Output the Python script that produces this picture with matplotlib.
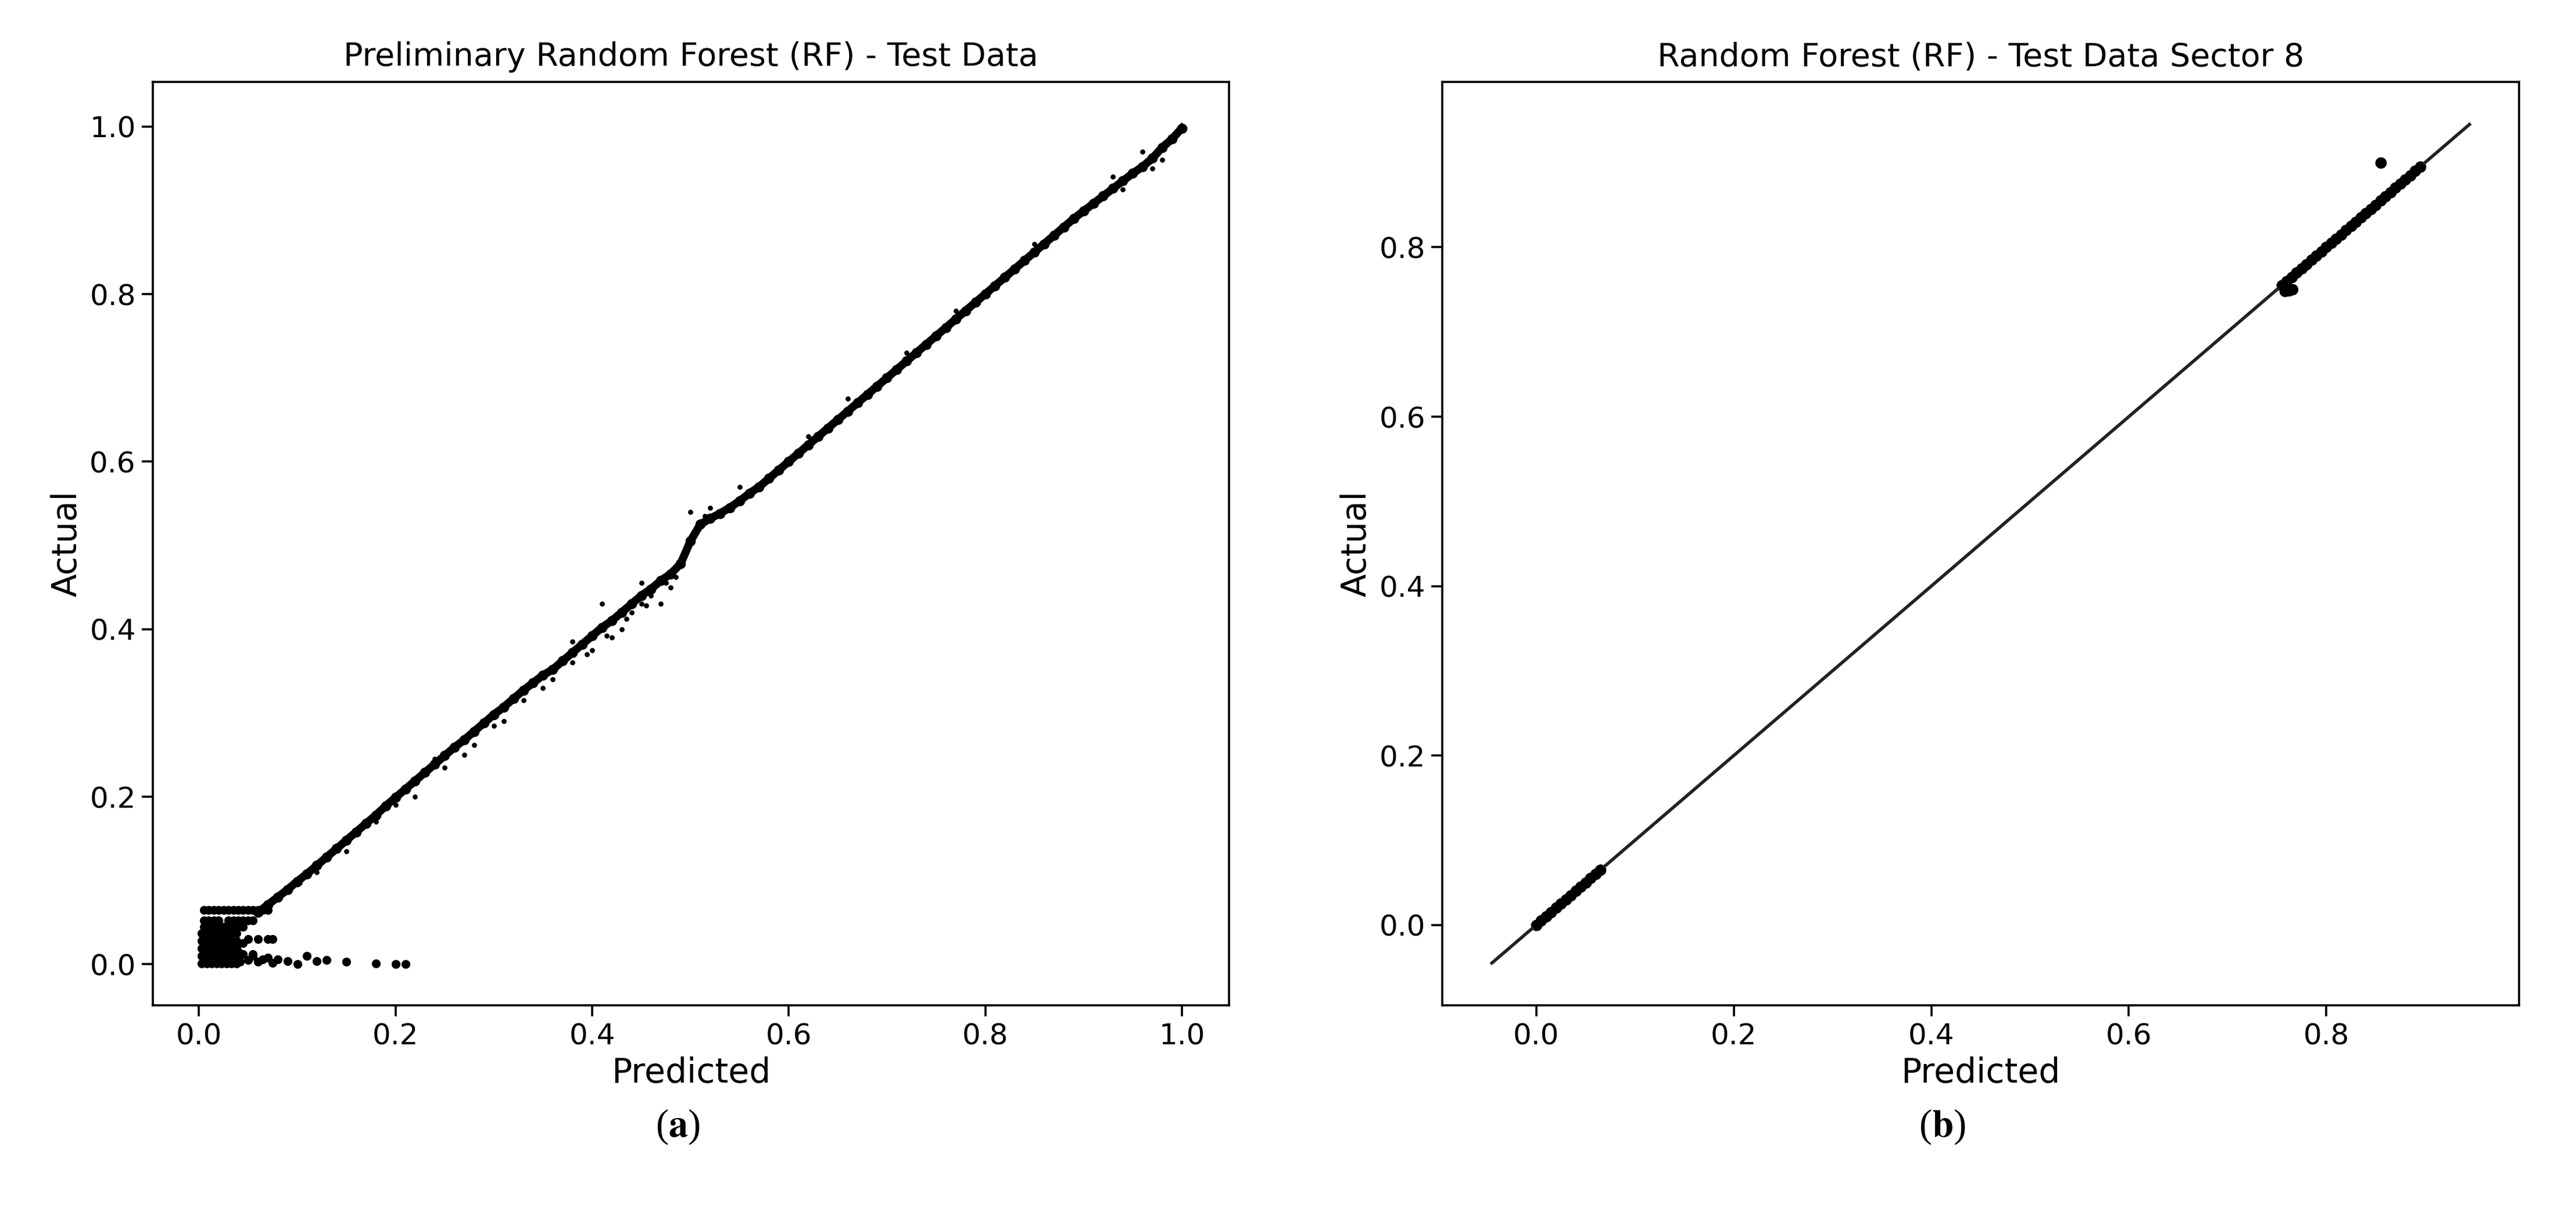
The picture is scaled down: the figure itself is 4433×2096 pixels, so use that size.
import matplotlib
matplotlib.use("Agg")
import matplotlib.pyplot as plt

plt.rcParams['mathtext.fontset'] = 'stix'

# ---- Panel (a): main diagonal band ----
band_pred = [0.06,0.07,0.08,0.09,0.10,0.11,0.12,0.13,0.14,0.15,0.16,0.17,0.18,0.19,0.20,
             0.21,0.22,0.23,0.24,0.25,0.26,0.27,0.28,0.29,0.30,0.31,0.32,0.33,0.34,0.35,
             0.36,0.37,0.38,0.39,0.40,0.41,0.42,0.43,0.44,0.45,0.46,0.47,0.48,0.49,0.50,
             0.51,0.52,0.53,0.54,0.55,0.56,0.57,0.58,0.59,0.60,0.61,0.62,0.63,0.64,0.65,
             0.66,0.67,0.68,0.69,0.70,0.71,0.72,0.73,0.74,0.75,0.76,0.77,0.78,0.79,0.80,
             0.81,0.82,0.83,0.84,0.85,0.86,0.87,0.88,0.89,0.90,0.91,0.92,0.93,0.94,0.95,
             0.96,0.97,0.98,0.99,1.00]
band_act = [0.062,0.071,0.080,0.089,0.099,0.108,0.118,0.128,0.138,0.148,0.158,0.168,0.178,0.189,0.199,
            0.209,0.219,0.229,0.239,0.249,0.259,0.268,0.278,0.288,0.298,0.307,0.317,0.327,0.336,0.345,
            0.352,0.362,0.372,0.382,0.392,0.402,0.410,0.420,0.430,0.440,0.448,0.458,0.466,0.478,0.505,
            0.525,0.532,0.538,0.545,0.553,0.562,0.570,0.580,0.590,0.600,0.610,0.620,0.630,0.640,0.650,
            0.660,0.670,0.680,0.690,0.700,0.710,0.720,0.730,0.740,0.750,0.760,0.770,0.780,0.790,0.800,
            0.810,0.820,0.830,0.840,0.850,0.860,0.870,0.880,0.890,0.899,0.908,0.917,0.926,0.935,0.944,
            0.952,0.962,0.975,0.985,0.998]

off_pred = [0.12,0.15,0.18,0.22,0.25,0.28,0.30,0.31,0.33,0.36,0.38,0.40,0.42,0.43,0.44,0.45,0.46,
            0.47,0.48,0.38,0.41,0.45,0.50,0.52,0.55,0.62,0.66,0.72,0.77,0.85,0.93,0.94,0.97,0.98,
            0.96,0.27,0.24,0.20,0.10,0.35,0.395,0.415,0.435,0.455,0.465,0.475,0.485,0.505,0.515]
off_act = [0.110,0.135,0.170,0.200,0.235,0.262,0.285,0.290,0.315,0.340,0.360,0.375,0.390,0.400,0.420,0.430,0.440,
           0.430,0.450,0.385,0.430,0.455,0.540,0.545,0.570,0.630,0.675,0.730,0.780,0.860,0.940,0.925,0.950,0.960,
           0.970,0.250,0.245,0.190,0.095,0.330,0.370,0.392,0.412,0.428,0.452,0.455,0.462,0.515,0.535]

low_pred = [0.005,0.010,0.015,0.020,0.025,0.030,0.035,0.040,0.045,0.050,0.055,0.060,0.065,0.070,
            0.005,0.010,0.015,0.020,0.030,0.035,0.040,0.045,0.050,0.055,
            0.005,0.010,0.015,0.020,0.025,0.030,0.035,0.040,0.045,
            0.003,0.008,0.013,0.018,0.023,0.028,0.033,0.038,
            0.003,0.008,0.013,0.018,0.023,0.028,0.033,0.038,
            0.003,0.008,0.013,0.018,0.023,0.028,0.033,0.038,
            0.003,0.008,0.013,0.018,0.023,0.028,0.033,0.038,
            0.003,0.008,0.013,0.018,0.023,0.028,0.033,0.038,0.042,
            0.045,0.050,0.055,0.060,0.070,0.075,0.080,0.090,0.100,0.110,0.120,0.130,
            0.150,0.180,0.200,0.210,0.040,0.045,0.050,0.060,0.070,0.075,0.055,0.065]
low_act = [0.065,0.065,0.065,0.065,0.065,0.065,0.065,0.065,0.065,0.065,0.065,0.065,0.065,0.065,
           0.052,0.052,0.052,0.052,0.052,0.052,0.052,0.052,0.052,0.052,
           0.045,0.045,0.045,0.045,0.045,0.045,0.045,0.045,0.045,
           0.037,0.037,0.037,0.037,0.037,0.037,0.037,0.037,
           0.028,0.028,0.028,0.028,0.028,0.028,0.028,0.028,
           0.019,0.019,0.019,0.019,0.019,0.019,0.019,0.019,
           0.010,0.010,0.010,0.010,0.010,0.010,0.010,0.010,
           0.001,0.001,0.001,0.001,0.001,0.001,0.001,0.001,0.003,
           0.012,0.005,0.010,0.003,0.008,0.002,0.006,0.004,0.000,0.010,0.004,0.005,
           0.003,0.001,0.000,0.000,0.015,0.025,0.030,0.030,0.030,0.030,0.012,0.006]

# ---- Panel (b) ----
b_pred = [0.000,0.005,0.010,0.015,0.020,0.025,0.030,0.035,0.040,0.045,0.050,0.055,0.060,0.065,
          0.755,0.760,0.765,0.770,0.775,0.780,0.785,0.790,0.795,0.800,0.805,0.810,0.815,0.820,
          0.825,0.830,0.835,0.840,0.845,0.850,0.855,0.860,0.865,0.870,0.875,0.880,0.885,0.890,
          0.895,0.758,0.762,0.766,0.855]
b_act = [0.000,0.005,0.010,0.015,0.020,0.025,0.030,0.035,0.040,0.045,0.050,0.055,0.060,0.065,
         0.755,0.760,0.765,0.770,0.775,0.780,0.785,0.790,0.795,0.800,0.805,0.810,0.815,0.820,
         0.825,0.830,0.835,0.840,0.845,0.850,0.855,0.860,0.865,0.870,0.875,0.880,0.885,0.890,
         0.895,0.748,0.749,0.750,0.900]
ref_line = [-0.045, 0.945]

fig = plt.figure(figsize=(22.165, 10.48), dpi=200)
ax1 = fig.add_axes([0.0593, 0.1746, 0.4178, 0.758])
ax2 = fig.add_axes([0.5600, 0.1746, 0.4178, 0.758])

ax1.scatter(band_pred, band_act, s=40, color='black', linewidths=0)
ax1.scatter(off_pred, off_act, s=10, color='black', linewidths=0)
ax1.scatter(low_pred, low_act, s=30, color='black', linewidths=0)
ax1.plot(band_pred, band_act, color='black', lw=5)
ax1.set_xlim(-0.047, 1.048)
ax1.set_ylim(-0.049, 1.053)

ax2.plot(ref_line, ref_line, color='#222222', lw=2)
ax2.scatter(b_pred, b_act, s=50, color='black', linewidths=0)
ax2.plot(b_pred[:14], b_act[:14], color='black', lw=5)
ax2.plot(b_pred[14:43], b_act[14:43], color='black', lw=5)
ax2.set_xlim(-0.095, 0.995)
ax2.set_ylim(-0.095, 0.995)

for ax, t in [(ax1, 'Preliminary Random Forest (RF) - Test Data'),
              (ax2, 'Random Forest (RF) - Test Data Sector 8')]:
    ax.set_title(t, fontsize=20, pad=10)
    ax.set_xlabel('Predicted', fontsize=21)
    ax.set_ylabel('Actual', fontsize=21)
    ax.tick_params(labelsize=18, length=7, width=1.3)
    for sp in ax.spines.values():
        sp.set_linewidth(1.3)

fig.text(0.263, 0.075, r'($\mathbf{a}$)', fontsize=24, ha='center', va='center',
         family='Liberation Serif')
fig.text(0.754, 0.075, r'($\mathbf{b}$)', fontsize=24, ha='center', va='center',
         family='Liberation Serif')

fig.savefig('out.png', dpi=200)
